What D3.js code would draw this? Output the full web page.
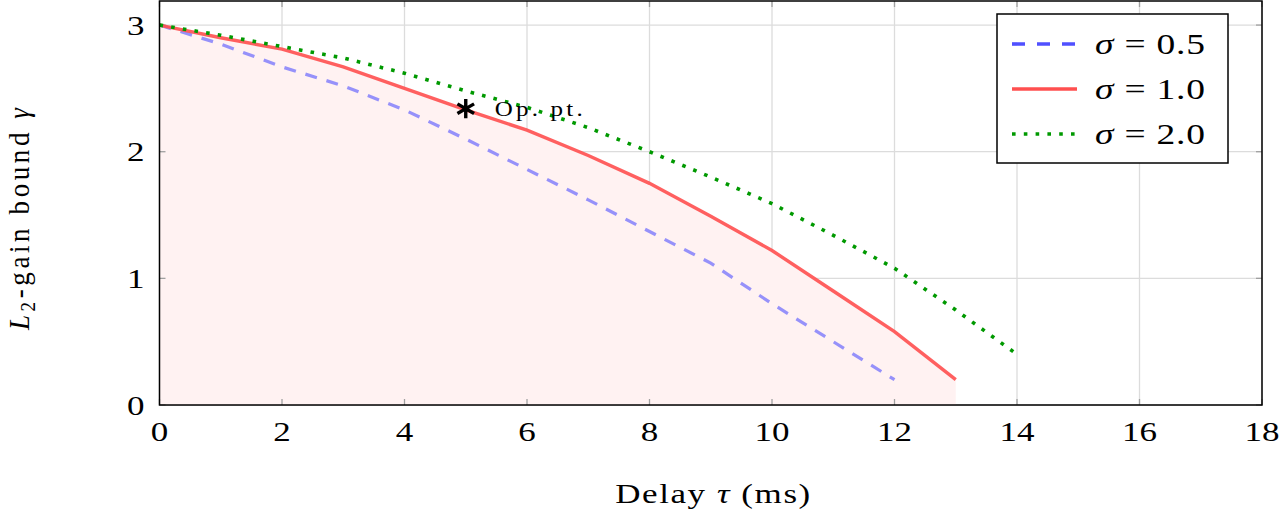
<!DOCTYPE html>
<html>
<head>
<meta charset="utf-8">
<script src="https://cdn.jsdelivr.net/npm/d3@7"></script>
<style>
  body { margin: 0; background: #fff; }
  svg text { font-family: "Liberation Serif", "DejaVu Serif", serif; fill: #000; }
</style>
</head>
<body>
<svg id="chart" width="1279" height="516"></svg>
<script>
// delay values (ms) and L2-gain bounds
var delays05 = [0, 1, 2, 3, 4, 5, 6, 7, 8, 9, 10, 11, 12];
var gamma05  = [3.0, 2.85, 2.67, 2.52, 2.33, 2.1, 1.86, 1.62, 1.37, 1.12, 0.8, 0.5, 0.2];

var delays10 = [0, 1, 2, 3, 4, 5, 6, 7, 8, 9, 10, 11, 12, 13];
var gamma10  = [3.0, 2.9, 2.81, 2.67, 2.5, 2.33, 2.17, 1.97, 1.75, 1.49, 1.22, 0.9, 0.58, 0.2];

var delays20 = [0, 1, 2, 3, 4, 5, 6, 7, 8, 9, 10, 11, 12, 13, 14];
var gamma20  = [3.0, 2.92, 2.83, 2.74, 2.62, 2.48, 2.35, 2.19, 2.0, 1.8, 1.59, 1.34, 1.08, 0.75, 0.4];

var xTicks = [0, 2, 4, 6, 8, 10, 12, 14, 16, 18];
var yTicks = [0, 1, 2, 3];
var legendLabels = ['0.5', '1.0', '2.0'];
var opPoint = [5, 2.34];

var margin = {top: 1, right: 17, bottom: 111, left: 159.5},
    width = 1279 - margin.left - margin.right,
    height = 516 - margin.top - margin.bottom;

// the figure's lettering is a bit wide, so text gets stretched horizontally
var stretch = 1.25;

var svg = d3.select('#chart')
  .append('g')
  .attr('transform', 'translate(' + margin.left + ',' + margin.top + ')');

var x = d3.scaleLinear().domain([0, 18]).range([0, width]);
var y = d3.scaleLinear().domain([0, 3.19]).range([height, 0]);

var pts = (xs, ys) => xs.map((d, i) => [d, ys[i]]);

function label(parent, px, py, size, anchor)
{
  return parent.append('text')
    .attr('transform', 'translate(' + px + ',' + py + ') scale(' + stretch + ',1)')
    .attr('font-size', size)
    .attr('text-anchor', anchor || 'start');
}

// grid
svg.append('g').selectAll('line').data(xTicks).join('line')
  .attr('x1', d => x(d)).attr('x2', d => x(d))
  .attr('y1', 0).attr('y2', height)
  .attr('stroke', '#dcdcdc').attr('stroke-width', 1.3);
svg.append('g').selectAll('line').data(yTicks).join('line')
  .attr('x1', 0).attr('x2', width)
  .attr('y1', d => y(d)).attr('y2', d => y(d))
  .attr('stroke', '#dcdcdc').attr('stroke-width', 1.3);

// shaded area under sigma = 1.0
svg.append('path')
  .datum(pts(delays10, gamma10))
  .attr('fill', '#fff2f2')
  .attr('d', d3.area().x(d => x(d[0])).y0(y(0)).y1(d => y(d[1])));

// ticks inward on all four sides
var tickLen = 6;
var ticks = svg.append('g').attr('stroke', '#a0a0a0').attr('stroke-width', 1.3);
xTicks.forEach(t => {
  ticks.append('line').attr('x1', x(t)).attr('x2', x(t)).attr('y1', height).attr('y2', height - tickLen);
  ticks.append('line').attr('x1', x(t)).attr('x2', x(t)).attr('y1', 0).attr('y2', tickLen);
});
yTicks.forEach(t => {
  ticks.append('line').attr('y1', y(t)).attr('y2', y(t)).attr('x1', 0).attr('x2', tickLen);
  ticks.append('line').attr('y1', y(t)).attr('y2', y(t)).attr('x1', width).attr('x2', width - tickLen);
});

var line = d3.line().x(d => x(d[0])).y(d => y(d[1]));

svg.append('path')
  .datum(pts(delays05, gamma05))
  .attr('fill', 'none')
  .attr('stroke', '#5050ff').attr('stroke-opacity', 0.6)
  .attr('stroke-width', 3.2)
  .attr('stroke-dasharray', '12,10')
  .attr('d', line);

svg.append('path')
  .datum(pts(delays10, gamma10))
  .attr('fill', 'none')
  .attr('stroke', '#ff4f4f').attr('stroke-opacity', 0.9)
  .attr('stroke-width', 3.4)
  .attr('d', line);

svg.append('path')
  .datum(pts(delays20, gamma20))
  .attr('fill', 'none')
  .attr('stroke', '#009900')
  .attr('stroke-width', 3.6)
  .attr('stroke-dasharray', '3.6,8.2')
  .attr('d', line);

// operating point
svg.append('path')
  .attr('d', d3.symbol(d3.symbolAsterisk, 260)())
  .attr('transform', 'translate(' + x(opPoint[0]) + ',' + y(opPoint[1]) + ')')
  .attr('stroke', '#000').attr('stroke-width', 3.4).attr('fill', 'none');
label(svg, x(opPoint[0]) + 29, y(opPoint[1]) + 7, 20)
  .attr('textLength', 88 / stretch).attr('lengthAdjust', 'spacing')
  .text('Op. pt.');

// frame
svg.append('rect')
  .attr('width', width).attr('height', height)
  .attr('fill', 'none').attr('stroke', '#000').attr('stroke-width', 1.5);

// tick labels
xTicks.forEach(t => label(svg, x(t), height + 36, 28, 'middle').text(t));
yTicks.forEach(t => label(svg, -15, y(t) + 9.5, 28, 'end').text(t));

// axis labels
label(svg, width / 2 + 2, height + 98, 28, 'middle')
  .attr('textLength', 195 / stretch).attr('lengthAdjust', 'spacing')
  .html('Delay <tspan font-style="italic">τ</tspan> (ms)');

svg.append('text')
  .attr('transform', 'translate(' + (29 - margin.left) + ',' + 218 + ') rotate(-90) scale(1,1.1)')
  .attr('text-anchor', 'middle').attr('font-size', 27)
  .attr('textLength', 222).attr('lengthAdjust', 'spacing')
  .html('<tspan font-style="italic">L</tspan><tspan font-size="19" dy="5">2</tspan><tspan dy="-5">-gain bound </tspan><tspan font-style="italic">γ</tspan>');

// legend
var lg = svg.append('g').attr('transform', 'translate(' + (997 - margin.left) + ',' + (14 - margin.top) + ')');
lg.append('rect')
  .attr('width', 231).attr('height', 149)
  .attr('fill', '#fff').attr('stroke', '#000').attr('stroke-width', 1.5);

var legendStyles = [
  {stroke: '#5050ff', dash: '13,12', w: 3.6},
  {stroke: '#ff4f4f', dash: null, w: 3.6},
  {stroke: '#009900', dash: '3.6,8.2', w: 3.6}
];

legendLabels.forEach((lab, i) => {
  var cy = 30 + i * 45;
  var s = legendStyles[i];
  lg.append('line')
    .attr('x1', 15).attr('x2', 80).attr('y1', cy).attr('y2', cy)
    .attr('stroke', s.stroke).attr('stroke-width', s.w)
    .attr('stroke-dasharray', s.dash);
  label(lg, 98, cy + 10, 30)
    .attr('textLength', 110 / stretch).attr('lengthAdjust', 'spacing')
    .html('<tspan font-style="italic">σ</tspan> = ' + lab);
});
</script>
</body>
</html>
